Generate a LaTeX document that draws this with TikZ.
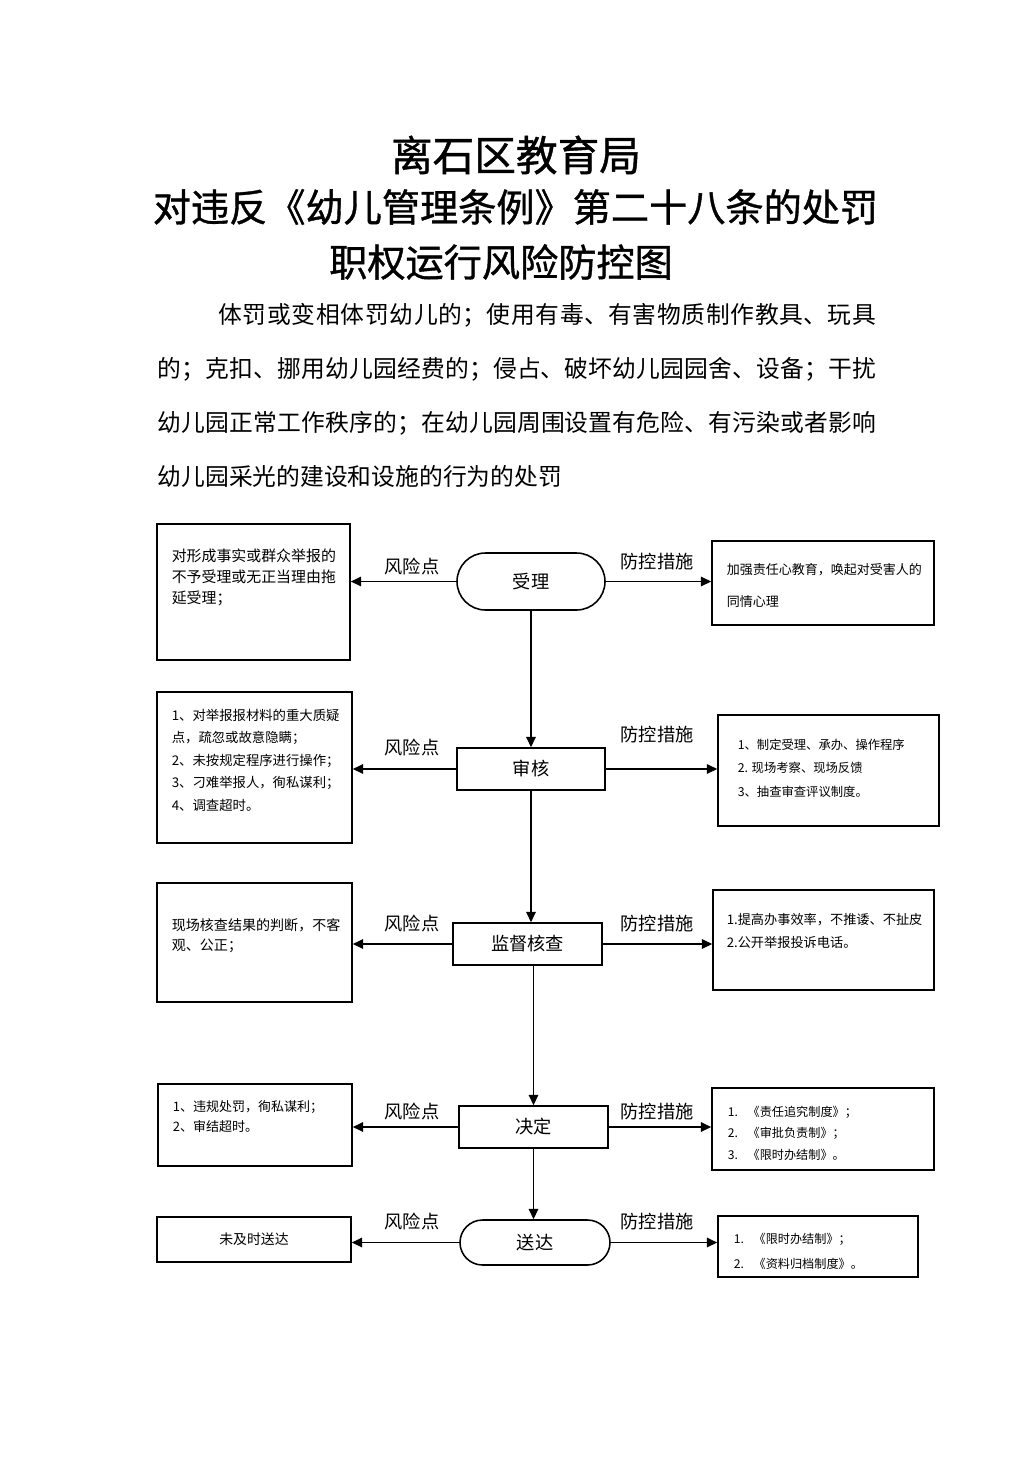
\documentclass[tikz,border=0pt]{standalone}
\usepackage{fontspec}
\setmainfont{Noto Sans CJK SC}
\newfontfamily\titlefont[FakeBold=1]{Noto Sans CJK SC}
\usetikzlibrary{arrows.meta,shapes.misc}
\newlength\pxu
\setlength\pxu{0.5763pt}
\XeTeXlinebreaklocale "zh"
\XeTeXlinebreakskip=0pt plus 3pt

\begin{document}
\begin{tikzpicture}[x=0.5763pt,y=-0.5763pt,->,>={Triangle[length=6pt,width=5.5pt]},
    line width=0.9pt,every node/.style={inner sep=0pt},
    stage/.style={draw,rectangle,minimum width=149*\pxu,minimum height=42*\pxu,
        font=\fontsize{10.5}{12}\selectfont},
    terminal/.style={stage,rounded rectangle},
    boxframe/.style={draw,rectangle},
    note/.style={anchor=north west,align=left},
    tag/.style={font=\fontsize{10.5}{12}\selectfont}]
    \useasboundingbox (0,0) rectangle (1033,1461);

    % titles
    \node[font=\titlefont\fontsize{24}{24}\selectfont] (title)  at (516,155) {离石区教育局};
    \node[font=\titlefont\fontsize{22}{22}\selectfont] (title2) at (515.5,207) {对违反《幼儿管理条例》第二十八条的处罚};
    \node[font=\titlefont\fontsize{22}{22}\selectfont] (title3) at (501,262) {职权运行风险防控图};
    \node[anchor=north west,text width=414pt,align=justify,
        font=\fontsize{13.7}{31.1}\selectfont] (intro) at (157,303)
        {\noindent\hspace*{35pt}体罚或变相体罚幼儿的；使用有毒、有害物质制作教具、玩具\linebreak 的；克扣、挪用幼儿园经费的；侵占、破坏幼儿园园舍、设备；干扰\linebreak 幼儿园正常工作秩序的；在幼儿园周围设置有危险、有污染或者影响\linebreak 幼儿园采光的建设和设施的行为的处罚};

    % main flow
    \node[terminal,minimum width=148*\pxu,minimum height=57*\pxu] (shouli) at (531,581.5) {受理};
    \node[stage,minimum width=148*\pxu] (shenhe)  at (531,769)    {审核};
    \node[stage]                        (jiancha) at (527.5,944)  {监督核查};
    \node[stage]                        (jueding) at (533.5,1127) {决定};
    \node[terminal,minimum width=150*\pxu,minimum height=45*\pxu] (songda) at (535,1242.5) {送达};

    % risk points
    \node[boxframe,minimum width=193*\pxu,minimum height=136*\pxu] (risk1) at (253.5,592)  {};
    \node[boxframe,minimum width=195*\pxu,minimum height=151*\pxu] (risk2) at (254.5,767.5) {};
    \node[boxframe,minimum width=195*\pxu,minimum height=119*\pxu] (risk3) at (254.5,942.5) {};
    \node[boxframe,minimum width=194*\pxu,minimum height=82*\pxu]  (risk4) at (255,1125)   {};
    \node[boxframe,minimum width=194*\pxu,minimum height=45*\pxu,
        font=\fontsize{8}{10}\selectfont] (risk5) at (254,1239.5) {未及时送达};

    \node[note,font=\fontsize{8.6}{12.1}\selectfont] (risk1txt) at (171,548)
        {对形成事实或群众举报的\\不予受理或无正当理由拖\\延受理；};
    \node[note,font=\fontsize{7.7}{13}\selectfont] (risk2txt) at (171,708)
        {1、对举报报材料的重大质疑\\点，疏忽或故意隐瞒；\\2、未按规定程序进行操作；\\3、刁难举报人，徇私谋利；\\4、调查超时。};
    \node[note,font=\fontsize{8.1}{11.5}\selectfont] (risk3txt) at (171,918)
        {现场核查结果的判断，不客\\观、公正；};
    \node[note,font=\fontsize{7.5}{11.5}\selectfont] (risk4txt) at (172,1100)
        {1、违规处罚，徇私谋利；\\2、审结超时。};

    % control measures
    \node[boxframe,minimum width=222*\pxu,minimum height=84*\pxu]  (ctrl1) at (823,583)    {};
    \node[boxframe,minimum width=221*\pxu,minimum height=111*\pxu] (ctrl2) at (828.5,770.5) {};
    \node[boxframe,minimum width=221*\pxu,minimum height=100*\pxu] (ctrl3) at (823.5,940)  {};
    \node[boxframe,minimum width=222*\pxu,minimum height=82*\pxu]  (ctrl4) at (823,1129)   {};
    \node[boxframe,minimum width=200*\pxu,minimum height=61*\pxu]  (ctrl5) at (818,1246.5) {};

    \node[note,font=\fontsize{7.5}{18.4}\selectfont] (ctrl1txt) at (726,563)
        {加强责任心教育，唤起对受害人的\\同情心理};
    \node[note,font=\fontsize{7.1}{13.5}\selectfont] (ctrl2txt) at (737,738)
        {1、制定受理、承办、操作程序\\2. 现场考察、现场反馈\\3、抽查审查评议制度。};
    \node[note,font=\fontsize{7.6}{12.7}\selectfont] (ctrl3txt) at (726,913)
        {1.提高办事效率，不推诿、不扯皮\\2.公开举报投诉电话。};
    \node[note,font=\fontsize{7}{12.4}\selectfont] (ctrl4txt) at (727,1105)
        {1.\hspace{0.8em}《责任追究制度》；\\2.\hspace{0.8em}《审批负责制》；\\3.\hspace{0.8em}《限时办结制》。};
    \node[note,font=\fontsize{7}{14.4}\selectfont] (ctrl5txt) at (733,1232)
        {1.\hspace{0.8em}《限时办结制》；\\2.\hspace{0.8em}《资料归档制度》。};

    % labels
    \foreach \y [count=\i] in {567,748,924,1112,1222}
        \node[tag] (risklab\i) at (412,\y) {风险点};
    \foreach \y [count=\i] in {562,735,924,1112,1222}
        \node[tag] (ctrllab\i) at (657,\y) {防控措施};

    \path (shouli) edge (shenhe)
          (shenhe.south) edge (shenhe.south |- jiancha.north)
          (jiancha.south -| jueding) edge (jueding.north)
          (jueding.south) edge (jueding.south |- songda.north);

    \path (shouli.west)  edge (shouli.west -| risk1.east)
          (shouli.east)  edge (shouli.east -| ctrl1.west)
          (shenhe.west)  edge (shenhe.west -| risk2.east)
          (shenhe.east)  edge (shenhe.east -| ctrl2.west)
          (jiancha.west) edge (jiancha.west -| risk3.east)
          (jiancha.east) edge (jiancha.east -| ctrl3.west)
          (jueding.west) edge (jueding.west -| risk4.east)
          (jueding.east) edge (jueding.east -| ctrl4.west)
          (songda.west)  edge (songda.west -| risk5.east)
          (songda.east)  edge (songda.east -| ctrl5.west);
\end{tikzpicture}
\end{document}
